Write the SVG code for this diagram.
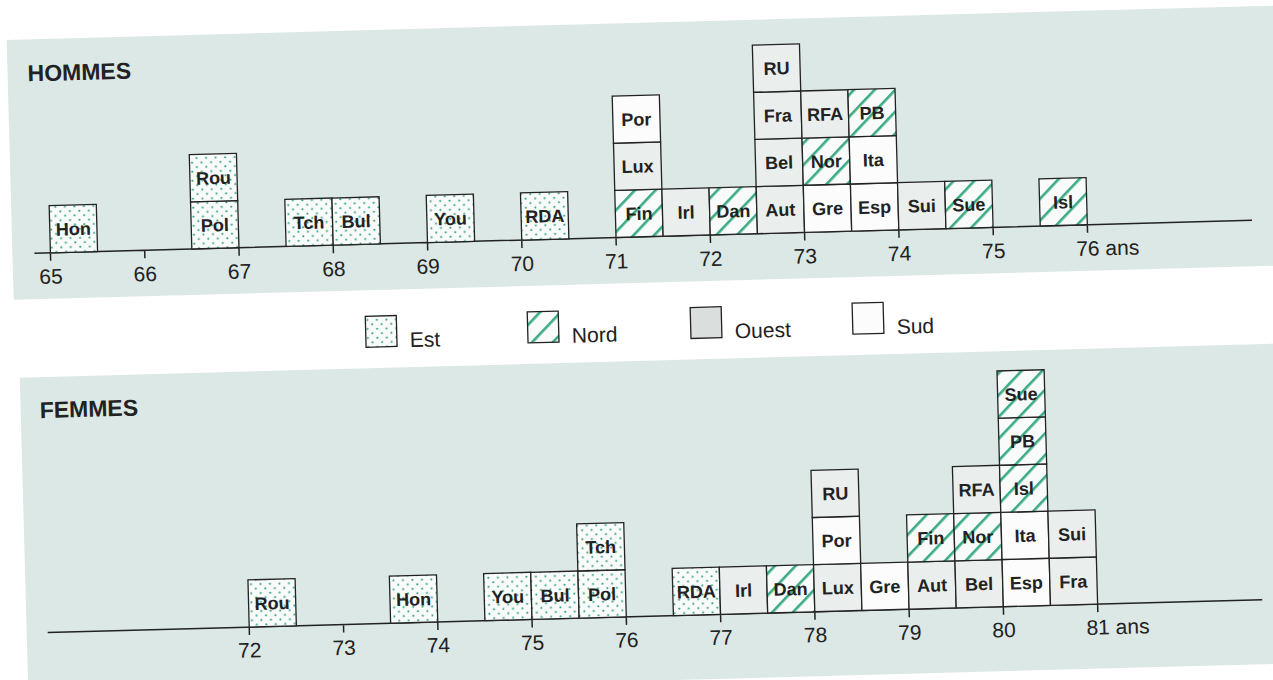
<svg xmlns="http://www.w3.org/2000/svg" width="1273" height="680" viewBox="0 0 1273 680">
<defs>
<pattern id="dots" patternUnits="userSpaceOnUse" width="9.5" height="9">
<rect width="9.5" height="9" fill="#f8fbfa"/>
<circle cx="2.2" cy="2.2" r="1.05" fill="#2f9e80"/>
<circle cx="7" cy="6.7" r="1.05" fill="#2f9e80"/>
</pattern>
<pattern id="stripes" patternUnits="userSpaceOnUse" width="15" height="15" patternTransform="rotate(45)">
<rect width="15" height="15" fill="#f8fbfa"/>
<rect x="0" y="0" width="2.6" height="15" fill="#3aab85"/>
</pattern>
</defs>
<style>
.panel{fill:#dce8e6}
.box{stroke:#222;stroke-width:1.3}
.est{fill:url(#dots)}
.nord{fill:url(#stripes)}
.ouest{fill:#eaeeec}
.sud{fill:#fbfcfb}
.lbl{font-family:"Liberation Sans",Arial,sans-serif;font-weight:bold;font-size:18px;text-anchor:middle;fill:#222}
.num{font-family:"Liberation Sans",Arial,sans-serif;font-size:21px;fill:#222}
.mid{text-anchor:middle}
.title{font-family:"Liberation Sans",Arial,sans-serif;font-weight:bold;font-size:23px;fill:#222}
.leg{font-family:"Liberation Sans",Arial,sans-serif;font-size:21px;fill:#222}
.axis{stroke:#222;stroke-width:1.5;fill:none}
</style>
<rect width="1273" height="680" fill="#ffffff"/>
<g transform="rotate(-1.55 636 340)">
<rect class="panel" x="15" y="23" width="1320" height="260"/>
<rect class="panel" x="19" y="361" width="1320" height="320"/>
<text class="title" x="35" y="65">HOMMES</text>
<text class="title" x="38" y="402">FEMMES</text>

<g id="axes">
<path class="axis" d="M37 237H1255 M53 237v8 M147.3 237v8 M241.6 237v8 M335.9 237v8 M430.2 237v8 M524.5 237v8 M618.8 237v8 M713.1 237v8 M807.4 237v8 M901.7 237v8 M996 237v8 M1090.3 237v8"/>
<path class="axis" d="M40 616.5H1255 M241.6 616.5v8 M335.9 616.5v8 M430.2 616.5v8 M524.5 616.5v8 M618.8 616.5v8 M713.1 616.5v8 M807.4 616.5v8 M901.7 616.5v8 M996 616.5v8 M1090.3 616.5v8"/>
<g class="num mid">
<text x="53" y="268">65</text><text x="147.3" y="268">66</text><text x="241.6" y="268">67</text><text x="335.9" y="268">68</text><text x="430.2" y="268">69</text><text x="524.5" y="268">70</text><text x="618.8" y="268">71</text><text x="713.1" y="268">72</text><text x="807.4" y="268">73</text><text x="901.7" y="268">74</text><text x="996" y="268">75</text>
<text x="241.6" y="647">72</text><text x="335.9" y="647">73</text><text x="430.2" y="647">74</text><text x="524.5" y="647">75</text><text x="618.8" y="647">76</text><text x="713.1" y="647">77</text><text x="807.4" y="647">78</text><text x="901.7" y="647">79</text><text x="996" y="647">80</text>
</g>
<text class="num" x="1078.5" y="268">76 ans</text>
<text class="num" x="1078.5" y="647">81 ans</text>
</g>

<g id="legend">
<rect class="box est" x="366" y="309" width="31" height="31"/><text class="leg" x="410" y="341">Est</text>
<rect class="box nord" x="528" y="309" width="31" height="31"/><text class="leg" x="572" y="341">Nord</text>
<rect class="box" x="691" y="309" width="31" height="31" fill="#dadedc"/><text class="leg" x="735" y="341">Ouest</text>
<rect class="box sud" x="853" y="309" width="31" height="31"/><text class="leg" x="897" y="341">Sud</text>
</g>

<g id="hommes">
<g id="h-hon"><rect class="box est" x="53" y="189.85" width="47.15" height="47.15"/><text class="lbl" x="76.6" y="220">Hon</text></g>
<g id="h-pol"><rect class="box est" x="194.45" y="189.85" width="47.15" height="47.15"/><text class="lbl" x="218" y="220">Pol</text></g>
<g id="h-rou"><rect class="box est" x="194.45" y="142.7" width="47.15" height="47.15"/><text class="lbl" x="218" y="172.8">Rou</text></g>
<g id="h-tch"><rect class="box est" x="288.75" y="189.85" width="47.15" height="47.15"/><text class="lbl" x="312.3" y="220">Tch</text></g>
<g id="h-bul"><rect class="box est" x="335.9" y="189.85" width="47.15" height="47.15"/><text class="lbl" x="359.5" y="220">Bul</text></g>
<g id="h-you"><rect class="box est" x="430.2" y="189.85" width="47.15" height="47.15"/><text class="lbl" x="453.8" y="220">You</text></g>
<g id="h-rda"><rect class="box est" x="524.5" y="189.85" width="47.15" height="47.15"/><text class="lbl" x="548.1" y="220">RDA</text></g>
<g id="h-fin"><rect class="box nord" x="618.8" y="189.85" width="47.15" height="47.15"/><text class="lbl" x="642.4" y="220">Fin</text></g>
<g id="h-lux"><rect class="box ouest" x="618.8" y="142.7" width="47.15" height="47.15"/><text class="lbl" x="642.4" y="172.8">Lux</text></g>
<g id="h-por"><rect class="box sud" x="618.8" y="95.55" width="47.15" height="47.15"/><text class="lbl" x="642.4" y="125.7">Por</text></g>
<g id="h-irl"><rect class="box ouest" x="665.95" y="189.85" width="47.15" height="47.15"/><text class="lbl" x="689.5" y="220">Irl</text></g>
<g id="h-dan"><rect class="box nord" x="713.1" y="189.85" width="47.15" height="47.15"/><text class="lbl" x="736.7" y="220">Dan</text></g>
<g id="h-aut"><rect class="box ouest" x="760.25" y="189.85" width="47.15" height="47.15"/><text class="lbl" x="783.8" y="220">Aut</text></g>
<g id="h-bel"><rect class="box ouest" x="760.25" y="142.7" width="47.15" height="47.15"/><text class="lbl" x="783.8" y="172.8">Bel</text></g>
<g id="h-fra"><rect class="box ouest" x="760.25" y="95.55" width="47.15" height="47.15"/><text class="lbl" x="783.8" y="125.7">Fra</text></g>
<g id="h-ru"><rect class="box ouest" x="760.25" y="48.4" width="47.15" height="47.15"/><text class="lbl" x="783.8" y="78.5">RU</text></g>
<g id="h-gre"><rect class="box sud" x="807.4" y="189.85" width="47.15" height="47.15"/><text class="lbl" x="831" y="220">Gre</text></g>
<g id="h-nor"><rect class="box nord" x="807.4" y="142.7" width="47.15" height="47.15"/><text class="lbl" x="831" y="172.8">Nor</text></g>
<g id="h-rfa"><rect class="box ouest" x="807.4" y="95.55" width="47.15" height="47.15"/><text class="lbl" x="831" y="125.7">RFA</text></g>
<g id="h-esp"><rect class="box sud" x="854.55" y="189.85" width="47.15" height="47.15"/><text class="lbl" x="878.1" y="220">Esp</text></g>
<g id="h-ita"><rect class="box sud" x="854.55" y="142.7" width="47.15" height="47.15"/><text class="lbl" x="878.1" y="172.8">Ita</text></g>
<g id="h-pb"><rect class="box nord" x="854.55" y="95.55" width="47.15" height="47.15"/><text class="lbl" x="878.1" y="125.7">PB</text></g>
<g id="h-sui"><rect class="box ouest" x="901.7" y="189.85" width="47.15" height="47.15"/><text class="lbl" x="925.3" y="220">Sui</text></g>
<g id="h-sue"><rect class="box nord" x="948.85" y="189.85" width="47.15" height="47.15"/><text class="lbl" x="972.4" y="220">Sue</text></g>
<g id="h-isl"><rect class="box nord" x="1043.15" y="189.85" width="47.15" height="47.15"/><text class="lbl" x="1066.7" y="220">Isl</text></g>
</g>

<g id="femmes">
<g id="f-rou"><rect class="box est" x="241.6" y="569.35" width="47.15" height="47.15"/><text class="lbl" x="265.2" y="599.5">Rou</text></g>
<g id="f-hon"><rect class="box est" x="383.05" y="569.35" width="47.15" height="47.15"/><text class="lbl" x="406.6" y="599.5">Hon</text></g>
<g id="f-you"><rect class="box est" x="477.35" y="569.35" width="47.15" height="47.15"/><text class="lbl" x="500.9" y="599.5">You</text></g>
<g id="f-bul"><rect class="box est" x="524.5" y="569.35" width="47.15" height="47.15"/><text class="lbl" x="548.1" y="599.5">Bul</text></g>
<g id="f-pol"><rect class="box est" x="571.65" y="569.35" width="47.15" height="47.15"/><text class="lbl" x="595.2" y="599.5">Pol</text></g>
<g id="f-tch"><rect class="box est" x="571.65" y="522.2" width="47.15" height="47.15"/><text class="lbl" x="595.2" y="552.3">Tch</text></g>
<g id="f-rda"><rect class="box est" x="665.95" y="569.35" width="47.15" height="47.15"/><text class="lbl" x="689.5" y="599.5">RDA</text></g>
<g id="f-irl"><rect class="box ouest" x="713.1" y="569.35" width="47.15" height="47.15"/><text class="lbl" x="736.7" y="599.5">Irl</text></g>
<g id="f-dan"><rect class="box nord" x="760.25" y="569.35" width="47.15" height="47.15"/><text class="lbl" x="783.8" y="599.5">Dan</text></g>
<g id="f-lux"><rect class="box ouest" x="807.4" y="569.35" width="47.15" height="47.15"/><text class="lbl" x="831" y="599.5">Lux</text></g>
<g id="f-por"><rect class="box sud" x="807.4" y="522.2" width="47.15" height="47.15"/><text class="lbl" x="831" y="552.3">Por</text></g>
<g id="f-ru"><rect class="box ouest" x="807.4" y="475.05" width="47.15" height="47.15"/><text class="lbl" x="831" y="505.2">RU</text></g>
<g id="f-gre"><rect class="box sud" x="854.55" y="569.35" width="47.15" height="47.15"/><text class="lbl" x="878.1" y="599.5">Gre</text></g>
<g id="f-aut"><rect class="box ouest" x="901.7" y="569.35" width="47.15" height="47.15"/><text class="lbl" x="925.3" y="599.5">Aut</text></g>
<g id="f-fin"><rect class="box nord" x="901.7" y="522.2" width="47.15" height="47.15"/><text class="lbl" x="925.3" y="552.3">Fin</text></g>
<g id="f-bel"><rect class="box ouest" x="948.85" y="569.35" width="47.15" height="47.15"/><text class="lbl" x="972.4" y="599.5">Bel</text></g>
<g id="f-nor"><rect class="box nord" x="948.85" y="522.2" width="47.15" height="47.15"/><text class="lbl" x="972.4" y="552.3">Nor</text></g>
<g id="f-rfa"><rect class="box ouest" x="948.85" y="475.05" width="47.15" height="47.15"/><text class="lbl" x="972.4" y="505.2">RFA</text></g>
<g id="f-esp"><rect class="box sud" x="996" y="569.35" width="47.15" height="47.15"/><text class="lbl" x="1019.6" y="599.5">Esp</text></g>
<g id="f-ita"><rect class="box sud" x="996" y="522.2" width="47.15" height="47.15"/><text class="lbl" x="1019.6" y="552.3">Ita</text></g>
<g id="f-isl"><rect class="box nord" x="996" y="475.05" width="47.15" height="47.15"/><text class="lbl" x="1019.6" y="505.2">Isl</text></g>
<g id="f-pb"><rect class="box nord" x="996" y="427.9" width="47.15" height="47.15"/><text class="lbl" x="1019.6" y="458">PB</text></g>
<g id="f-sue"><rect class="box nord" x="996" y="380.75" width="47.15" height="47.15"/><text class="lbl" x="1019.6" y="410.9">Sue</text></g>
<g id="f-fra"><rect class="box ouest" x="1043.15" y="569.35" width="47.15" height="47.15"/><text class="lbl" x="1066.7" y="599.5">Fra</text></g>
<g id="f-sui"><rect class="box ouest" x="1043.15" y="522.2" width="47.15" height="47.15"/><text class="lbl" x="1066.7" y="552.3">Sui</text></g>
</g>
</g>
</svg>
